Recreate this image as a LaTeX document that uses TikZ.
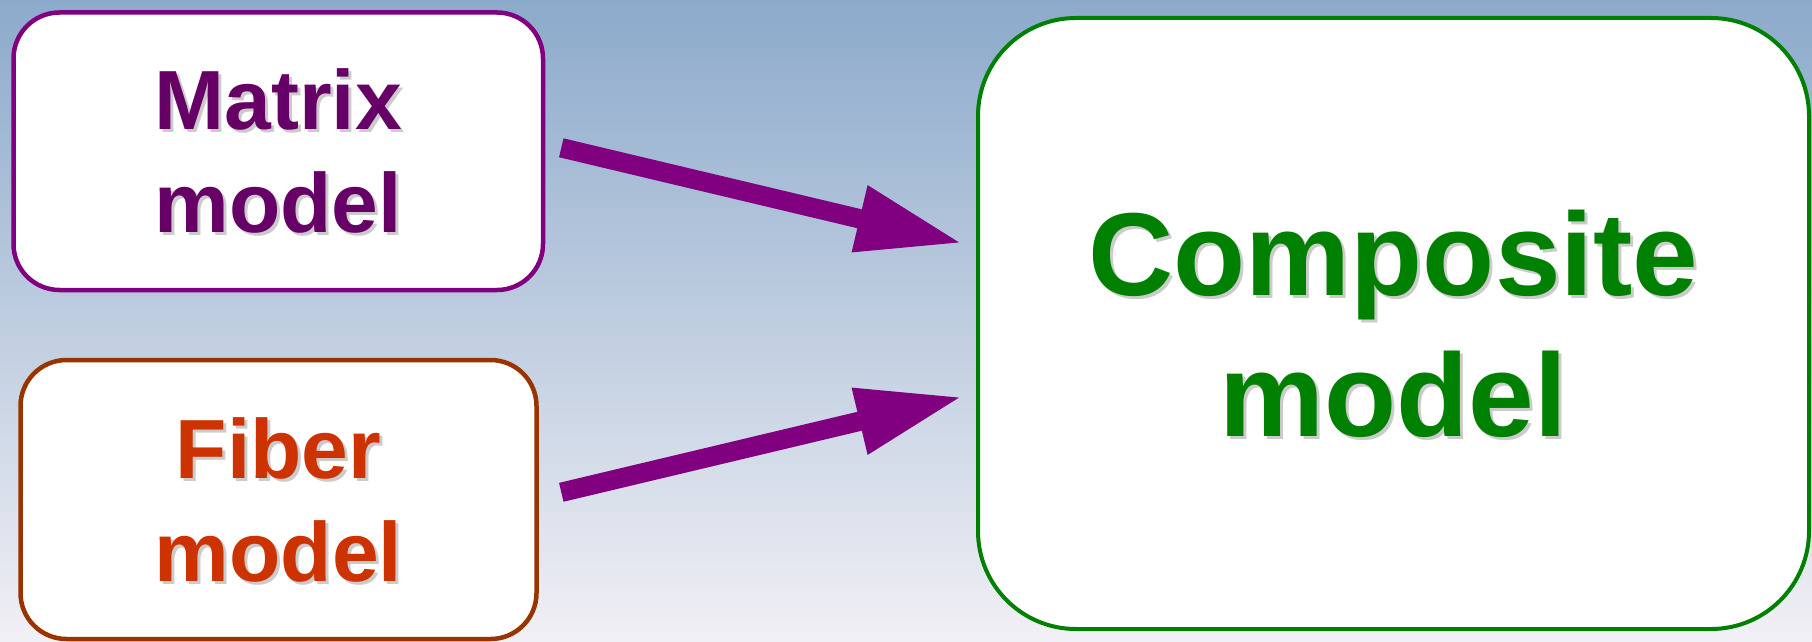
\documentclass[tikz,border=0pt]{standalone}
\usepackage{fontspec}
\setmainfont{Liberation Sans}
\usetikzlibrary{arrows.meta}
\definecolor{bgtop}{HTML}{8CAACB}
\definecolor{bgmid}{HTML}{C3D0DF}
\definecolor{bgbot}{HTML}{F1F0F5}
\definecolor{mxborder}{HTML}{800080}
\definecolor{mxtext}{HTML}{660066}
\definecolor{fbborder}{HTML}{993300}
\definecolor{fbtext}{HTML}{CC3300}
\definecolor{cpgreen}{HTML}{008000}
\definecolor{arrowpurple}{HTML}{800080}
\tikzset{
  modelbox/.style={draw, fill=white, line width=4.5pt, rounded corners=46pt, inner sep=0pt},
  smalltext/.style={align=center, font=\bfseries\fontsize{84}{103}\selectfont, inner sep=0pt},
  bigtext/.style={align=center, font=\bfseries\fontsize{118}{141}\selectfont, inner sep=0pt},
  txtshadow/.style={text=black!45, opacity=0.45},
  flowarrow/.style={draw=arrowpurple, line width=19.4pt, line cap=butt,
    -{Triangle[length=106pt, width=63pt]}, fill=arrowpurple}
}
\begin{document}
\begin{tikzpicture}[x=1pt, y=-1pt]
  \useasboundingbox (0,0) rectangle (1812,642);
  \shade[top color=bgtop, middle color=bgmid, bottom color=bgbot] (0,0) rectangle (1812,642);

  % boxes
  \node[modelbox, draw=mxborder, minimum width=529.5pt, minimum height=277.5pt] (matrix) at (278.25,151.25) {};
  \node[modelbox, draw=fbborder, minimum width=516pt, minimum height=279pt] (fiber) at (278.5,499.5) {};
  \node[modelbox, draw=cpgreen, line width=4pt, rounded corners=98pt, minimum width=831pt, minimum height=611pt] (composite) at (1393.5,323.5) {};

  % labels with soft shadow
  \node[smalltext, txtshadow] (matrixsh) at ([xshift=3pt,yshift=-3pt]matrix.center) {Matrix\\model};
  \node[smalltext, text=mxtext] (matrixlbl) at (matrix.center) {Matrix\\model};
  \node[smalltext, txtshadow] (fibersh) at ([xshift=3pt,yshift=-3pt]fiber.center) {Fiber\\model};
  \node[smalltext, text=fbtext] (fiberlbl) at (fiber.center) {Fiber\\model};
  \node[bigtext, txtshadow] (compsh) at ([xshift=3pt,yshift=-3pt]composite.center) {Composite\\model};
  \node[bigtext, text=cpgreen] (complbl) at (composite.center) {Composite\\model};

  % arrows
  \coordinate (a1s) at (561.3,147.8);
  \coordinate (a1e) at (962.7,243.3);
  \coordinate (a2s) at (561.3,492.3);
  \coordinate (a2e) at (962.7,396.7);
  \path[flowarrow] (a1s) -- (a1e);
  \path[flowarrow] (a2s) -- (a2e);
\end{tikzpicture}
\end{document}
